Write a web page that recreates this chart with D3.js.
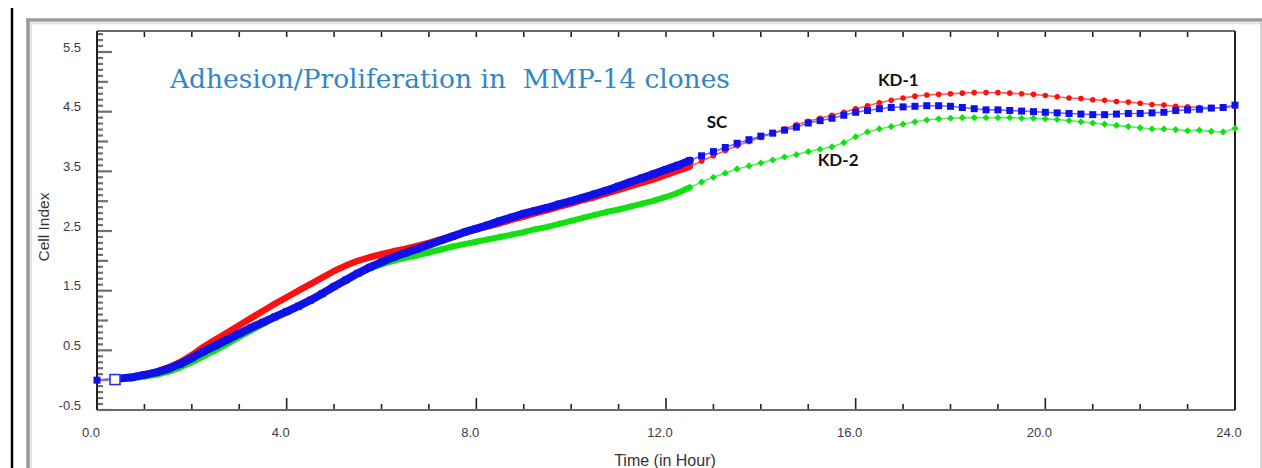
<!DOCTYPE html>
<html><head><meta charset="utf-8">
<script src="https://cdn.jsdelivr.net/npm/d3@7/dist/d3.min.js"></script>
<style>body{margin:0;background:#fff}svg{display:block}</style>
</head><body>
<svg id="c" width="1262" height="468"></svg>
<script>
// ---- data ----
const times = [0].concat(d3.range(0.5, 24.001, 0.25));
const normTime = 0.38;
const seriesSC = [0,
 0.03,0.05,0.09,0.13,0.19,0.27,0.37,0.48,0.58,0.68,0.78,0.88,0.97,1.06,1.15,1.24,1.34,1.45,1.57,1.68,1.79,1.89,1.98,2.06,2.13,2.20,2.27,2.34,2.41,2.48,2.54,2.60,2.67,2.73,2.79,2.84,2.89,2.95,3.00,3.06,3.12,3.18,3.25,3.32,3.39,3.46,3.53,3.60,3.68,
 3.76,3.83,3.90,3.97,4.03,4.09,4.14,4.19,4.24,4.31,4.35,4.39,4.44,4.49,4.52,4.55,4.57,4.58,4.59,4.60,4.60,4.59,4.57,4.55,4.53,4.53,4.52,4.51,4.50,4.49,4.48,4.47,4.46,4.45,4.45,4.46,4.47,4.47,4.48,4.49,4.52,4.53,4.54,4.56,4.57,4.61];
const seriesKD1 = [0,
 0.03,0.05,0.09,0.14,0.21,0.30,0.42,0.56,0.68,0.80,0.92,1.04,1.16,1.28,1.39,1.50,1.61,1.72,1.83,1.92,2.00,2.06,2.11,2.16,2.20,2.25,2.30,2.36,2.42,2.48,2.53,2.58,2.63,2.69,2.74,2.80,2.85,2.91,2.96,3.02,3.07,3.13,3.19,3.25,3.31,3.37,3.44,3.51,3.58,
 3.67,3.76,3.85,3.93,4.00,4.07,4.14,4.21,4.28,4.34,4.39,4.44,4.49,4.55,4.60,4.65,4.69,4.73,4.76,4.78,4.79,4.80,4.81,4.82,4.82,4.82,4.81,4.80,4.79,4.77,4.75,4.73,4.72,4.70,4.69,4.67,4.66,4.64,4.62,4.61,4.59,4.58,4.57,4.57,4.56,4.60];
const seriesKD2 = [0,
 0.02,0.03,0.06,0.09,0.14,0.21,0.30,0.40,0.50,0.61,0.72,0.83,0.94,1.05,1.15,1.25,1.35,1.46,1.57,1.68,1.78,1.87,1.94,2.00,2.05,2.09,2.14,2.19,2.24,2.28,2.32,2.36,2.40,2.44,2.48,2.53,2.57,2.62,2.67,2.72,2.77,2.82,2.86,2.91,2.96,3.01,3.07,3.14,3.23,
 3.32,3.40,3.47,3.54,3.59,3.64,3.69,3.74,3.78,3.83,3.87,3.91,3.98,4.08,4.16,4.21,4.25,4.29,4.33,4.36,4.38,4.39,4.40,4.40,4.40,4.40,4.40,4.39,4.39,4.38,4.37,4.35,4.33,4.31,4.29,4.27,4.25,4.23,4.21,4.21,4.20,4.18,4.19,4.17,4.16,4.22];
const yTickLabels = [-0.5, 0.5, 1.5, 2.5, 3.5, 4.5, 5.5];
const xTickLabels = [0, 4, 8, 12, 16, 20, 24];
const denseEnd = 12.5;
const titleText = "Adhesion/Proliferation in  MMP-14 clones";
const seriesLabels = [
  {name:"SC",   t:12.86, v:4.33},
  {name:"KD-1", t:16.47, v:5.03},
  {name:"KD-2", t:15.2,  v:3.69}
];

// ---- layout ----
const svg = d3.select("#c");
const L = 97, R = 1235, T = 31, B = 410;
const x = d3.scaleLinear().domain([0, 24]).range([L, R]);
const y = d3.scaleLinear().domain([-0.5, 5.852]).range([B, T]);
const sans = "Liberation Sans, Arial, sans-serif";

// frames
svg.append("line").attr("x1",12).attr("x2",12).attr("y1",8).attr("y2",468).attr("stroke","#000").attr("stroke-width",2.5);
svg.append("line").attr("x1",28).attr("x2",28).attr("y1",19).attr("y2",468).attr("stroke","#9a9a9a").attr("stroke-width",3.5);
svg.append("line").attr("x1",26).attr("x2",1262).attr("y1",20).attr("y2",20).attr("stroke","#9a9a9a").attr("stroke-width",3.5);
svg.append("line").attr("x1",30).attr("x2",1262).attr("y1",23.5).attr("y2",23.5).attr("stroke","#dcdcdc").attr("stroke-width",1.5);
svg.append("line").attr("x1",31).attr("x2",31).attr("y1",23).attr("y2",468).attr("stroke","#dcdcdc").attr("stroke-width",1.5);
svg.append("line").attr("x1",1261).attr("x2",1261).attr("y1",20).attr("y2",468).attr("stroke","#b0b0b0").attr("stroke-width",1);

// y minor ticks
const yMinor = d3.range(-5, 59).map(i => i / 10);
svg.append("g").selectAll("line").data(yMinor).join("line")
  .attr("x1", L).attr("y1", d => y(d)).attr("y2", d => y(d))
  .attr("x2", d => {
    const k = Math.round(d * 10);
    if ((k + 5) % 10 === 0) return L + 15;
    if (k % 5 === 0) return L + 11;
    return L + 6;
  })
  .attr("stroke", "#6f6f6f").attr("stroke-width", 2.2);

// x ticks bottom and top
const xHours = d3.range(0, 25);
svg.append("g").selectAll("line").data(xHours).join("line")
  .attr("x1", d => x(d)).attr("x2", d => x(d)).attr("y1", B)
  .attr("y2", d => d % 4 === 0 ? B - 12 : B - 6)
  .attr("stroke", "#222").attr("stroke-width", 1.6);
svg.append("g").selectAll("line").data(xHours).join("line")
  .attr("x1", d => x(d)).attr("x2", d => x(d)).attr("y1", T)
  .attr("y2", T + 6)
  .attr("stroke", "#222").attr("stroke-width", 1.6);

// axes frame
svg.append("line").attr("x1",L).attr("x2",R).attr("y1",B).attr("y2",B).attr("stroke","#6a6a6a").attr("stroke-width",2);
svg.append("line").attr("x1",L).attr("x2",R).attr("y1",T).attr("y2",T).attr("stroke","#6a6a6a").attr("stroke-width",2);
svg.append("line").attr("x1",L).attr("x2",L).attr("y1",T).attr("y2",B).attr("stroke","#222").attr("stroke-width",2);
svg.append("line").attr("x1",R).attr("x2",R).attr("y1",T).attr("y2",B).attr("stroke","#222").attr("stroke-width",2);

// tick labels
svg.append("g").selectAll("text").data(yTickLabels).join("text")
  .attr("x", 81).attr("y", d => y(d) - 5).attr("dy", "0.35em")
  .attr("text-anchor", "end").attr("font-family", sans)
  .attr("font-size", 13).attr("fill", "#3a3a4a").text(d => d.toFixed(1));
svg.append("g").selectAll("text").data(xTickLabels).join("text")
  .attr("x", d => x(d) - 6).attr("y", 432).attr("dy", "0.35em")
  .attr("text-anchor", "middle").attr("font-family", sans)
  .attr("font-size", 13).attr("fill", "#3a3a4a").text(d => d.toFixed(1));

// axis titles
svg.append("text").attr("x", 665).attr("y", 466).attr("text-anchor","middle")
  .attr("font-family",sans).attr("font-size",16).attr("fill","#333").text("Time (in Hour)");
svg.append("text").attr("transform","translate(49,227) rotate(-90)").attr("text-anchor","middle")
  .attr("font-family",sans).attr("font-size",15.5).attr("fill","#333").text("Cell Index");

// title
const title = svg.append("text").attr("x", 170).attr("y", 88)
  .attr("font-family","DejaVu Serif, Liberation Serif, serif").attr("font-size",26)
  .attr("fill","#2f87c6").attr("xml:space","preserve").style("white-space","pre").text(titleText);
const tw = title.node().getComputedTextLength();
title.attr("font-size", 26 * 560 / tw);

// ---- series ----
const rows = k => times.map((t, i) => ({t, v: k[i]}));
const line = d3.line().x(d => x(d.t)).y(d => y(d.v));
const defs = [
  {data: rows(seriesKD2), mark:"#12e012", ln:"#5ef05e", band:6, shape:"diamond"},
  {data: rows(seriesKD1), mark:"#ff1010", ln:"#ff5a5a", band:6.5, shape:"circle"},
  {data: rows(seriesSC),  mark:"#1010e8", ln:"#6a6aff", band:8, shape:"square"}
];
const gS = svg.append("g");
defs.forEach(s => {
  const dense = s.data.filter(d => d.t >= 0.5 && d.t <= denseEnd);
  const all = s.data;
  gS.append("path").attr("d", line(all)).attr("fill","none").attr("stroke", s.ln).attr("stroke-width", 1.6);
  gS.append("path").attr("d", line(dense)).attr("fill","none").attr("stroke", s.mark)
    .attr("stroke-width", s.band).attr("stroke-linejoin","round").attr("stroke-linecap","round");
  const pts = all.filter(d => d.t >= 0.5);
  const g = gS.append("g");
  if (s.shape === "square") {
    g.selectAll("rect").data(pts).join("rect")
      .attr("x", d => x(d.t) - 3.5).attr("y", d => y(d.v) - 3.5).attr("width", 7).attr("height", 7).attr("fill", s.mark);
  } else if (s.shape === "circle") {
    g.selectAll("circle").data(pts).join("circle")
      .attr("cx", d => x(d.t)).attr("cy", d => y(d.v)).attr("r", 2.8).attr("fill", s.mark);
  } else {
    g.selectAll("path").data(pts).join("path")
      .attr("d", d => { const cx = x(d.t), cy = y(d.v); return `M${cx},${cy-3.6}L${cx+3.6},${cy}L${cx},${cy+3.6}L${cx-3.6},${cy}Z`; })
      .attr("fill", s.mark);
  }
});
// first point (t=0) filled square and normalization hollow square
const sc0 = defs[2].data[0];
gS.append("rect").attr("x", x(sc0.t) - 3.5).attr("y", y(sc0.v) - 3.5).attr("width", 7).attr("height", 7).attr("fill", "#1010e8");
gS.append("rect").attr("x", x(normTime) - 5).attr("y", y(0.01) - 5).attr("width", 10).attr("height", 10)
  .attr("fill", "#fff").attr("stroke", "#3030f0").attr("stroke-width", 1.6);

// series labels
svg.append("g").selectAll("text").data(seriesLabels).join("text")
  .attr("x", d => x(d.t)).attr("y", d => y(d.v)).attr("dy","0.35em")
  .attr("font-family","Lato, Open Sans, sans-serif").attr("font-weight","bold").attr("font-size",17)
  .attr("fill","#111").text(d => d.name);
</script>
</body></html>
